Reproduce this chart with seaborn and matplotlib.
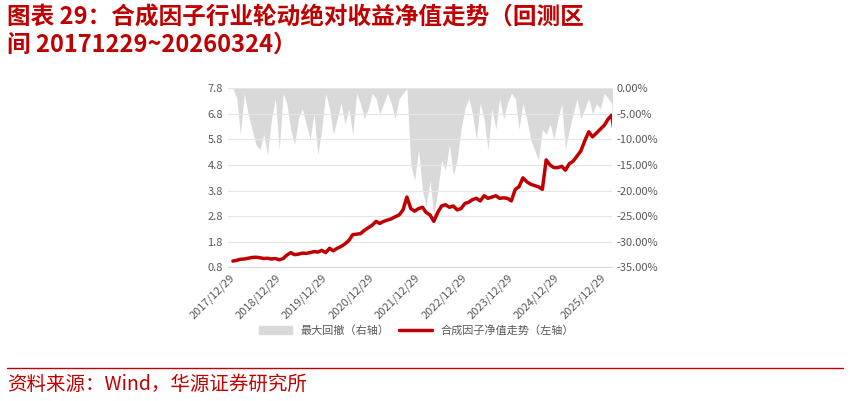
import pandas as pd
import numpy as np
import matplotlib.pyplot as plt
import matplotlib.patches as mpatches
import matplotlib.lines as mlines
import seaborn as sns

# 月度净值（左轴），2017/12 - 2026/03
net_value = [1.05,
    1.08, 1.12, 1.13, 1.16, 1.19, 1.2, 1.18, 1.15, 1.16, 1.13, 1.15, 1.1,
    1.15, 1.28, 1.38, 1.3, 1.32, 1.36, 1.35, 1.38, 1.42, 1.4, 1.47, 1.38,
    1.55, 1.45, 1.55, 1.62, 1.72, 1.85, 2.08, 2.1, 2.12, 2.25, 2.35, 2.45,
    2.6, 2.52, 2.6, 2.65, 2.7, 2.78, 2.85, 3.05, 3.55, 3.1, 3.0, 3.1,
    3.15, 2.95, 2.85, 2.6, 2.95, 3.2, 3.25, 3.15, 3.2, 3.05, 3.1, 3.3,
    3.35, 3.45, 3.5, 3.4, 3.6, 3.5, 3.55, 3.6, 3.5, 3.52, 3.5, 3.4,
    3.85, 3.95, 4.3, 4.15, 4.05, 4.0, 3.95, 3.85, 5.0, 4.8, 4.7, 4.7,
    4.75, 4.6, 4.85, 4.95, 5.15, 5.35, 5.75, 6.1, 5.9, 6.05, 6.2, 6.35,
    6.6, 6.75, 5.7]
# 月度最大回撤（右轴，%）
drawdown = [0,
    -2, -9, -1, -5, -8, -11, -12, -9, -13, -6, -2, -12,
    -1, -3, -8, -11, -6, -4, -7, -10, -5, -13, -8, -1,
    -4, -9, -6, -3, -7, -4, -9, -1, -3, -6, -4, -1,
    -2, -5, -3, -1, -3, -6, -2, -1, 0, -15, -18, -12,
    -20, -23, -18, -25, -20, -14, -16, -11, -17, -14, -8, -4,
    -2, -5, -10, -3, -6, -12, -4, -8, -2, -6, -3, -1,
    -2, -8, -3, -6, -10, -12, -14, -8, -9, -7, -10, -6,
    -3, -12, -8, -5, -2, -6, -4, -2, -5, -3, -4, -1,
    -2, -3, -15]
dates = pd.date_range("2017-12-29", periods=len(net_value), freq="MS") + pd.Timedelta(days=28)
tick_labels = [f"{y}/12/29" for y in range(2017, 2026)]

df = pd.DataFrame({"date": dates, "nav": net_value, "dd": drawdown})

sns.set_style("white")
plt.rcParams['font.family'] = ['Noto Sans CJK SC', 'DejaVu Sans']
red = "#C00000"

fig = plt.figure(figsize=(8.5, 4.01), dpi=100)
ax = fig.add_axes([0.268, 0.333, 0.452, 0.447])
ax2 = ax.twinx()
ax2.fill_between(df["date"], 0, df["dd"], color="#D9D9D9", lw=0)
ax2.set_ylim(-35, 0)
ax2.set_yticks(np.arange(-35, 0.1, 5))
ax2.set_yticklabels([f"{v:.2f}%" for v in np.arange(-35, 0.1, 5)])
ax.set_zorder(ax2.get_zorder() + 1)
ax.patch.set_visible(False)

sns.lineplot(data=df, x="date", y="nav", ax=ax, color=red, lw=2.5)
ax.set_ylim(0.8, 7.8)
ax.set_yticks(np.arange(0.8, 7.81, 1.0))
ax.set_yticklabels([f"{v:.1f}" for v in np.arange(0.8, 7.81, 1.0)])
ax.yaxis.grid(True, color="#E6E6E6", lw=0.8)
ax.set_xlim(pd.Timestamp("2017-12-20"), pd.Timestamp("2026-03-31"))
ax.set_xticks(pd.to_datetime([t.replace("/", "-") for t in tick_labels]))
ax.set_xticklabels(tick_labels, rotation=45, ha="right", rotation_mode="anchor")
ax.set_xlabel("")
ax.set_ylabel("")
for a in (ax, ax2):
    for s in a.spines.values():
        s.set_visible(False)
    a.tick_params(labelsize=8, colors="#595959", length=0)
ax.spines["bottom"].set_visible(True)
ax.spines["bottom"].set_color("#D9D9D9")

handles = [mpatches.Patch(color="#D9D9D9", label="最大回撤（右轴）"),
           mlines.Line2D([], [], color=red, lw=2.5, label="合成因子净值走势（左轴）")]
fig.legend(handles=handles, loc="center", bbox_to_anchor=(0.49, 0.175), ncol=2,
           frameon=False, fontsize=8, labelcolor="#595959", handlelength=3, columnspacing=0.8)

fig.text(0.008, 0.985, "图表 29：合成因子行业轮动绝对收益净值走势（回测区\n间 20171229~20260324）",
         color=red, fontsize=17, fontweight="bold", va="top", linespacing=1.15)
fig.add_artist(mlines.Line2D([0.008, 0.992], [0.082, 0.082], color=red, lw=1))
fig.text(0.008, 0.042, "资料来源：Wind，华源证券研究所", color=red, fontsize=14, va="center")

fig.savefig("out.png", dpi=100)
